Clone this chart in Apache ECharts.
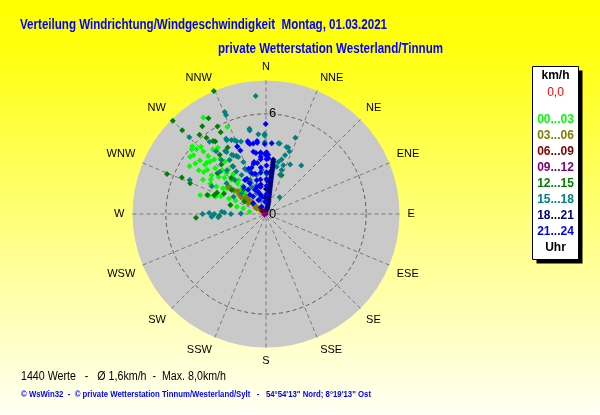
<!DOCTYPE html>
<html><head><meta charset="utf-8">
<script src="https://cdn.jsdelivr.net/npm/echarts@6/dist/echarts.min.js"></script>
<style>html,body{margin:0;padding:0;background:#fff}#c{width:600px;height:415px}</style>
</head><body><div id="c"></div>
<script>
// ---- data (radius = km/h, angle = degrees clockwise from N) ----
const directions = ['N','NNE','NE','ENE','E','ESE','SE','SSE','S','SSW','SW','WSW','W','WNW','NW','NNW'];
const radiusTicks = [0, 6];
const radiusMax = 8;
const hourRanges = ['00...03','03...06','06...09','09...12','12...15','15...18','18...21','21...24'];
const hourColors = ['#00ff00','#808000','#800000','#800080','#008000','#008080','#000080','#0000ff'];

const h00_03 = [[6.9,327],[6.0,312.5],[5.7,313],[5.6,316],[5.6,309],[5.3,315],[4.9,315],[5.0,320.5],[4.9,324],[5.4,302],[5.2,305.5],[5.1,309],[4.7,309],[4.6,313],[4.5,316.5],[4.3,320.5],[4.0,322],[3.9,326],[4.4,307],[4.1,312],[3.7,315],[3.5,319.5],[3.1,321],[4.0,305.5],[3.6,308],[3.3,311],[2.9,314.5],[2.6,321],[4.3,298.5],[3.8,298.5],[3.4,299],[3.0,301],[2.7,307],[2.3,306],[2.1,312.5],[4.1,286],[3.6,288],[3.2,289],[2.9,291.5],[2.4,292.5],[2.0,294],[1.7,303],[2.2,284],[1.8,284],[1.4,284],[1.0,278],[5.9,311],[5.7,307],[4.8,303],[5.7,336],[3.2,292.5],[4.7,311],[3.4,316],[3.0,318],[2.5,317],[2.2,320],[1.8,315],[1.5,310],[1.2,305],[2.8,303],[3.9,302],[4.5,304]];
const h03_06 = [[2.8,306],[2.7,306],[2.6,305],[2.4,307],[2.2,309],[2.0,306],[1.8,304],[1.6,306],[1.6,309.5],[1.5,310],[1.4,303],[1.3,309],[1.25,310],[1.24,301],[1.2,305],[1.1,311],[1.0,307],[0.85,309],[0.8,304],[0.65,301],[0.6,306],[0.5,313],[0.4,305],[0.2,300]];
const h06_09 = [[0.3,310],[0.2,330],[0.5,320],[0.15,0]];
const h09_12 = [[0.0,0],[0.1,250]];
const h12_15 = [[8.0,337],[7.9,315],[7.1,315],[6.5,324],[6.2,320],[5.6,331],[6.4,292],[5.5,293.5],[5.3,325],[4.2,267],[4.9,292],[2.8,267.5],[3.7,288],[3.2,293.5],[6.7,329],[6.0,331],[5.4,324],[2.5,22],[2.4,1],[2.5,342],[4.0,318],[3.5,325],[3.0,316],[2.5,305],[2.0,318],[1.5,300],[4.5,322],[3.8,310],[2.8,296],[3.3,290],[2.2,284],[5.8,322],[4.6,330],[3.9,333]];
const h15_18 = [[7.1,355],[6.6,338],[6.4,338],[6.5,315],[4.9,21],[3.6,36],[4.2,18.5],[3.7,18],[2.8,19.5],[2.5,19.7],[1.3,39],[4.7,359],[4.3,359],[5.2,349],[4.6,341],[4.8,337],[4.4,337],[5.1,332],[4.5,327],[4.1,330],[3.9,326],[4.2,320.5],[5.0,294],[3.8,270],[3.4,271],[3.1,270],[2.5,272],[2.1,270],[1.5,271],[3.75,312.5],[3.5,318],[3.45,325.5],[3.1,325],[2.76,328],[2.9,336],[2.25,335],[2.4,346.5],[1.8,342],[2.65,354.5],[2.9,12.7],[3.2,13.3],[1.9,310],[2.2,298],[5.5,322],[5.0,332],[4.9,335],[4.7,338],[4.8,321.5],[4.4,327.5],[4.0,331],[3.8,334],[3.4,336.5],[3.0,335],[2.7,339],[2.35,330],[1.85,332],[1.36,336],[0.9,337],[3.26,267],[2.87,266],[2.66,273],[2.76,317.5],[3.0,308],[3.65,297],[4.2,17],[4.0,20.5],[3.4,16],[3.1,19.5],[3.3,26],[4.3,10],[4.3,11],[5.1,349],[4.8,359],[4.8,354.5]];
const h18_21 = [[3.3,7.6],[3.2,7.7],[3.1,7.8],[3.0,7.8],[2.9,8],[2.8,8],[2.7,8],[2.6,8],[2.5,8],[2.4,8],[2.3,8],[2.2,8],[2.1,8],[2.0,8.3],[1.9,8.3],[1.8,8.3],[1.7,8.5],[1.6,8.5],[1.5,8.7],[1.4,9],[1.3,9],[1.2,9.5],[1.1,9.5],[1.0,10],[0.9,10],[0.8,10],[0.7,11],[0.6,11],[0.5,12],[0.4,12],[0.3,13],[2.0,2],[1.5,0],[1.0,355],[2.5,5],[1.8,350],[1.2,345]];
const h21_24 = [[5.4,359.8],[4.5,346],[4.3,347],[4.3,353],[4.2,359],[4.25,4.6],[4.4,337],[4.1,338],[4.4,346],[4.3,349.7],[4.4,353],[3.65,355],[3.45,354.7],[3.55,2.2],[3.35,2.4],[3.7,355],[3.3,354.4],[2.8,353.6],[2.5,352.6],[2.1,351],[1.66,349],[3.7,0.5],[3.3,0.5],[2.9,0.6],[2.5,0.7],[2.1,0.8],[1.7,1],[1.2,1.5],[3.1,346],[2.9,342.6],[2.5,345],[2.4,331.6],[2.1,332.5],[1.7,341],[1.4,341],[1.07,346],[0.74,355.4],[1.3,323.7],[1.8,323.6],[3.8,348.5],[3.7,350.6],[3.2,347],[3.1,350.3],[2.9,339],[2.6,340.6],[2.4,328.3],[2.1,332.4],[2.1,344.6],[1.6,335.4],[1.7,347.6],[1.5,320],[0.96,331.3],[0.5,329.4],[1.0,310],[2.1,320.3],[3.6,359],[3.5,0.6]];
const seriesData = [h00_03,h03_06,h06_09,h09_12,h12_15,h15_18,h18_21,h21_24];

const titleText = 'Verteilung Windrichtung/Windgeschwindigkeit  Montag, 01.03.2021';
const subtitleText = 'private Wetterstation Westerland/Tinnum';
const statsText = '1440 Werte   -   Ø 1,6km/h  -  Max. 8,0km/h';
const footerText = '© WsWin32  -  © private Wetterstation Tinnum/Westerland/Sylt   -   54°54\'13" Nord; 8°19\'13" Ost';

const FONT = '"Liberation Sans", Arial, sans-serif';
const measureCtx = document.createElement('canvas').getContext('2d');
function fitScale(text, font, targetW){ measureCtx.font = font; return targetW / measureCtx.measureText(text).width; }
function fittedText(text, font, x, y, targetW, fill){
  return {type:'text', x:x, y:y, scaleX:fitScale(text, font, targetW), scaleY:1,
    style:{text:text, font:font, fill:fill, textAlign:'left', textVerticalAlign:'middle'}, z:10};
}

const chart = echarts.init(document.getElementById('c'), null, {renderer:'canvas'});

const legendFont = 'bold 12px ' + FONT;
const legendChildren = [
  {type:'rect', shape:{x:4,y:4,width:46,height:193}, style:{fill:'#000'}},
  {type:'rect', shape:{x:0,y:0,width:46,height:193}, style:{fill:'#fff', stroke:'#000', lineWidth:1}},
  {type:'text', style:{text:'km/h', x:23, y:9, textAlign:'center', textVerticalAlign:'middle', fill:'#000', font:legendFont}},
  {type:'text', style:{text:'0,0', x:23, y:26, textAlign:'center', textVerticalAlign:'middle', fill:'#ff0000', font:'12px ' + FONT}},
  {type:'text', style:{text:'Uhr', x:23, y:181, textAlign:'center', textVerticalAlign:'middle', fill:'#000', font:legendFont}}
];
hourRanges.forEach((h,i)=>{
  legendChildren.push({type:'text', style:{text:h, x:23, y:53.5+16*i, textAlign:'center', textVerticalAlign:'middle', fill:hourColors[i], font:legendFont}});
});

const CENTER = [266,214];
const OUTER_R = 133.5;
const RING_R = OUTER_R * radiusTicks[1] / radiusMax;
const dashed = {color:'#7a7a7a', width:1, type:[4,3]};
const ringDashed = {color:'#5e5e5e', width:1, type:[4,3]};
const hidden = {axisLine:{show:false}, axisTick:{show:false}, axisLabel:{show:false}, splitLine:{show:false}, splitArea:{show:false}};

chart.setOption({
  backgroundColor:{type:'linear',x:0,y:0,x2:0,y2:1,colorStops:[{offset:0,color:'#ffff00'},{offset:0.12,color:'#ffff10'},{offset:1,color:'#fffff6'}]},
  animation:false,
  polar:[{center:CENTER, radius:OUTER_R}, {center:CENTER, radius:OUTER_R}, {center:CENTER, radius:RING_R}],
  angleAxis:[
    Object.assign({}, hidden, {polarIndex:0, type:'value', min:0, max:360, startAngle:90, z:0}),
    {
      polarIndex:1, type:'value', min:0, max:360, interval:22.5, startAngle:90, clockwise:true, z:1,
      axisLine:{show:false}, axisTick:{show:false},
      axisLabel:{show:true, margin:8, color:'#000', fontSize:11, fontFamily:FONT,
        formatter:v=> v>=360 ? '' : directions[Math.round(v/22.5)%16]},
      splitLine:{show:true, lineStyle:dashed}
    },
    Object.assign({}, hidden, {polarIndex:2, type:'value', min:0, max:360, startAngle:90, z:1,
      axisLine:{show:true, lineStyle:ringDashed}})
  ],
  radiusAxis:[
    Object.assign({}, hidden, {polarIndex:0, type:'value', min:0, max:radiusMax, interval:radiusMax, z:0,
      splitArea:{show:true, areaStyle:{color:['#c9c9c9']}}}),
    {
      polarIndex:1, type:'value', min:0, max:radiusMax, interval:6, z:1,
      axisLine:{show:false}, axisTick:{show:false}, splitLine:{show:false}, splitArea:{show:false},
      axisLabel:{show:true, margin:-3, align:'left', color:'#000', fontSize:13, fontFamily:FONT,
        formatter:v=> radiusTicks.indexOf(v)>=0 ? String(v) : ''}
    },
    Object.assign({}, hidden, {polarIndex:2, type:'value', min:0, max:radiusTicks[1], z:1})
  ],
  graphic:[
    fittedText(titleText, 'bold 14px ' + FONT, 20, 25, 367, '#0000ff'),
    fittedText(subtitleText, 'bold 14px ' + FONT, 218, 49, 225, '#0000ff'),
    fittedText(statsText, '12px ' + FONT, 21, 377, 205, '#000000'),
    fittedText(footerText, 'bold 9px ' + FONT, 21, 395, 350, '#0000ff'),
    {type:'group', left:532, top:66, children:legendChildren}
  ],
  series: seriesData.map((d,i)=>({
    type:'scatter', coordinateSystem:'polar', polarIndex:1, name:hourRanges[i], data:d,
    symbol:'diamond', symbolSize:6, itemStyle:{color:hourColors[i], opacity:1}, z:2+i
  }))
});
</script></body></html>
